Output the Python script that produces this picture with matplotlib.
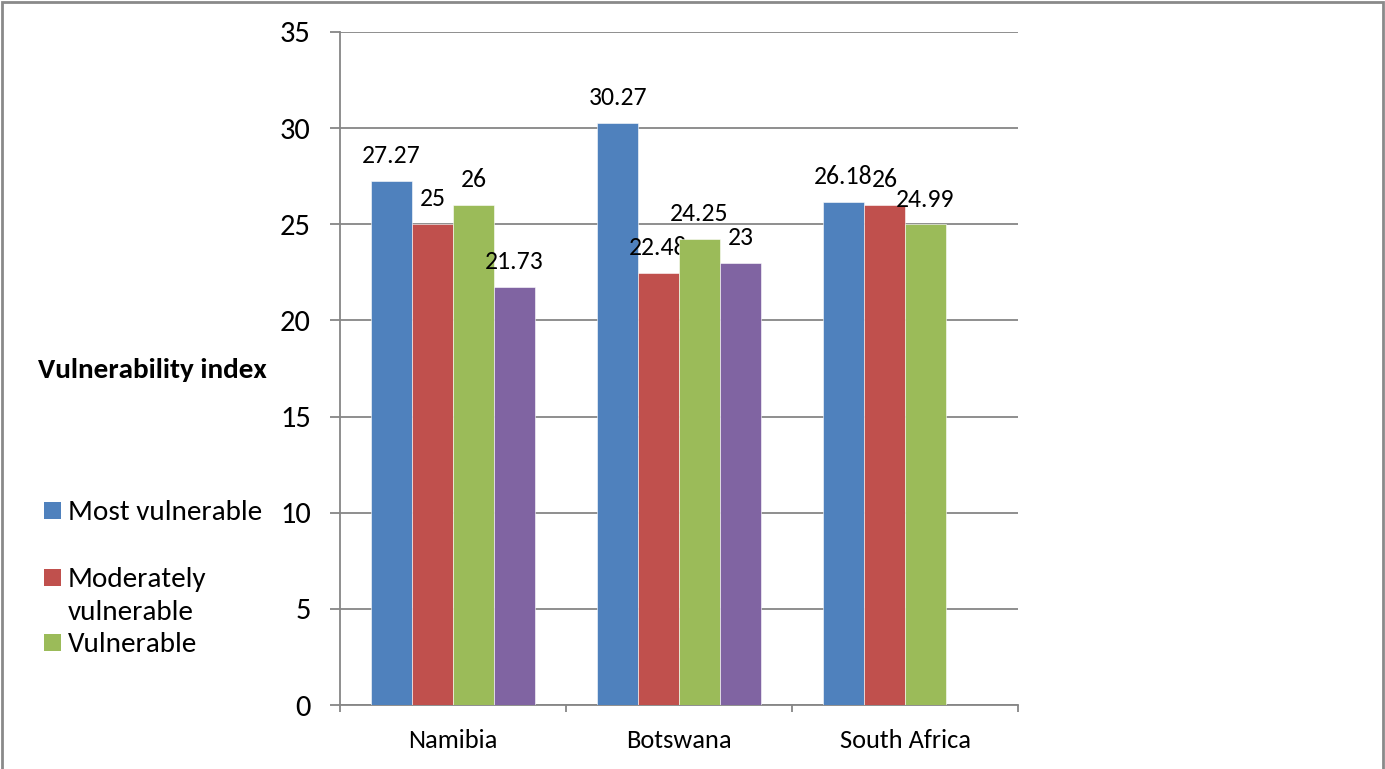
import numpy as np
import matplotlib
matplotlib.use('Agg')
import matplotlib.pyplot as plt
from matplotlib.patches import Rectangle

plt.rcParams['font.family'] = ['Carlito', 'Lato', 'DejaVu Sans']

countries = ['Namibia', 'Botswana', 'South Africa']
most_vulnerable = [27.27, 30.27, 26.18]
moderately_vulnerable = [25, 22.48, 26]
vulnerable = [26, 24.25, 24.99]
fourth_group = [21.73, 23, np.nan]

series_labels = ['Most vulnerable', 'Moderately\nvulnerable', 'Vulnerable']
colors = ['#4F81BD', '#C0504D', '#9BBB59', '#8064A2']
y_ticks = [0, 5, 10, 15, 20, 25, 30, 35]

W, H = 1385, 769
fig = plt.figure(figsize=(W / 100, H / 100), dpi=100)
ax = fig.add_axes([340 / W, 1 - 705 / H, 678 / W, 673 / H])

series = [most_vulnerable, moderately_vulnerable, vulnerable, fourth_group]
x = np.arange(len(countries))
width = 0.181
for i, (vals, col) in enumerate(zip(series, colors)):
    vals = np.array(vals, dtype=float)
    offs = x + (i - 1.5) * width
    ok = np.isfinite(vals)
    bars = ax.bar(offs[ok], vals[ok], width, color=col, edgecolor='white',
                  linewidth=0.4, zorder=3)
    ax.bar_label(bars, labels=[f'{v:g}' for v in vals[ok]], padding=10,
                 fontsize=18.5, color='black')

ax.set_xlim(-0.5, 2.5)
ax.set_ylim(0, 35)
ax.set_yticks(y_ticks)
ax.yaxis.grid(True, color='#868686', linewidth=1.3, zorder=0)
ax.set_axisbelow(True)
ax.tick_params(axis='y', length=7, width=1.3, color='#868686', pad=14,
               labelsize=22)

ax.set_xticks(x)
ax.set_xticklabels(countries)
ax.set_xticks([-0.5, 0.5, 1.5, 2.5], minor=True)
ax.tick_params(axis='x', which='major', length=0, pad=17, labelsize=19)
ax.tick_params(axis='x', which='minor', length=5, width=1.3, color='#868686')

for side in ['top', 'right']:
    ax.spines[side].set_visible(False)
for side in ['left', 'bottom']:
    ax.spines[side].set_color('#868686')
    ax.spines[side].set_linewidth(1.3)

# axis title sits horizontally to the left of the plot area
fig.text(38 / W, 1 - 370 / H, 'Vulnerability index', fontsize=21,
         fontweight='bold', ha='left', va='center')

# legend drawn by hand down the left margin
leg_y = [510, 577, 642]
for lab, col, yy in zip(series_labels, colors, leg_y):
    fig.add_artist(Rectangle((44 / W, 1 - (yy + 8.5) / H), 17 / W, 17 / H,
                             transform=fig.transFigure, facecolor=col,
                             edgecolor='none'))
    fig.text(68 / W, 1 - (yy - 10) / H, lab, fontsize=21, ha='left',
             va='top', linespacing=1.4)

# chart frame
fig.add_artist(Rectangle((2 / W, -0.05), 1381 / W, 1.05 - 2 / H,
                         transform=fig.transFigure, facecolor='none',
                         edgecolor='#8a8a8a', linewidth=2))

fig.savefig('out.png', dpi=100, facecolor='white')
